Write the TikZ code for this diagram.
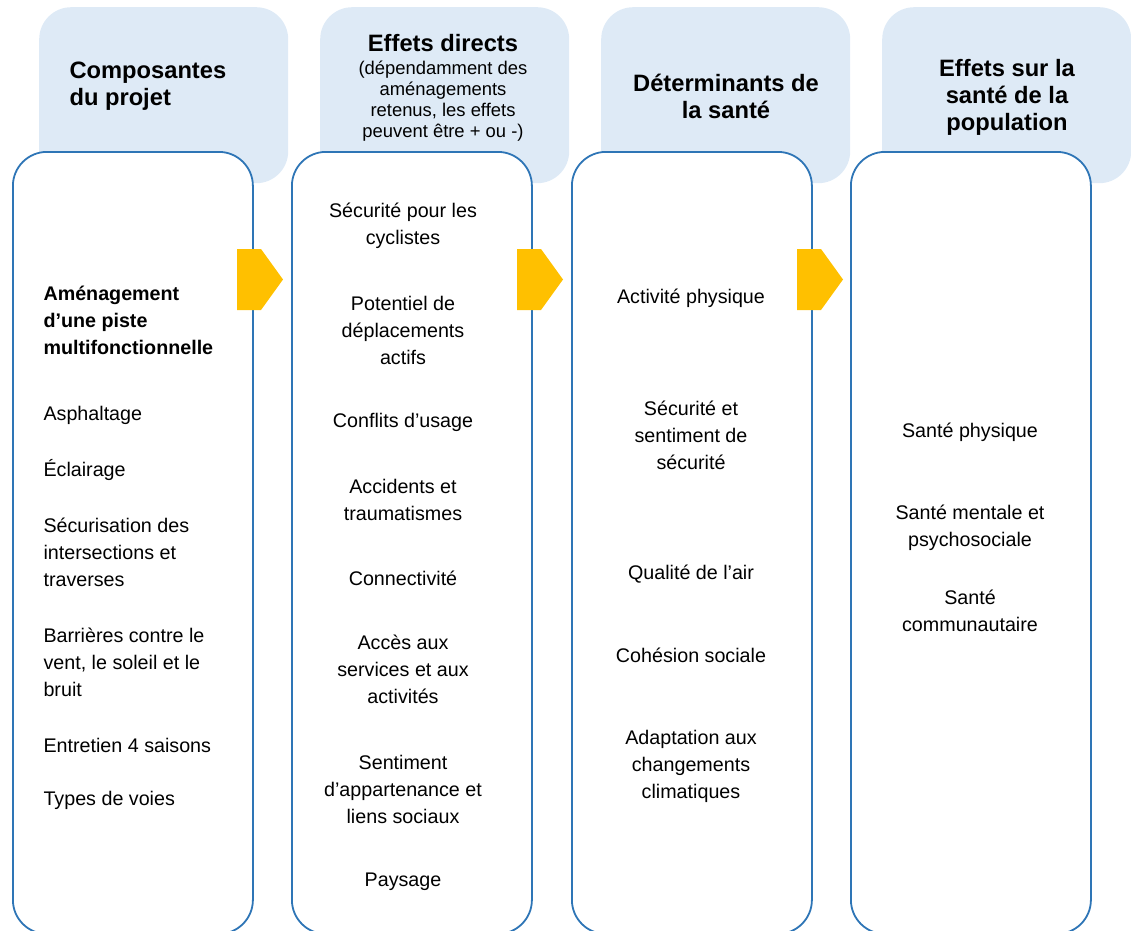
\documentclass[tikz,border=0pt]{standalone}
\usepackage{fontspec}
\setmainfont{Liberation Sans}
\usetikzlibrary{positioning}
\definecolor{headblue}{HTML}{DEEAF6}
\definecolor{lineblue}{HTML}{2E75B6}
\definecolor{arrowyellow}{HTML}{FFC000}

\begin{document}
\begin{tikzpicture} [x = 1pt, y = -1pt,
    head/.style = {fill = headblue, rounded corners = 32pt, inner sep = 0pt,
        minimum width = 249pt, minimum height = 176pt, anchor = north west},
    col/.style = {draw = lineblue, line width = 1.8pt, fill = white, inner sep = 0pt,
        rounded corners = 34pt, minimum width = 240pt, minimum height = 782pt, anchor = north west},
    htext/.style = {font = \fontsize{23.7}{27}\selectfont\bfseries, align = center},
    hsub/.style = {font = \fontsize{18.4}{21}\selectfont, align = center},
    item/.style = {font = \fontsize{19.7}{27}\selectfont, align = center, yshift = -2pt},
    litem/.style = {item, align = left, anchor = west}]

\useasboundingbox (0,0) rectangle (1131,930);
\clip (0,0) rectangle (1131,930);

\node (h1) [head] at (39,7) {};
\node (h2) [head] at (320,7) {};
\node (h3) [head] at (601,7) {};
\node (h4) [head] at (882,7) {};

\node (c1) [col] at (12,151) {};
\node (c2) [col] at (291,151) {};
\node (c3) [col] at (571,151) {};
\node (c4) [col] at (850,151) {};

\foreach \x in {237,517,797}
    \fill [arrowyellow] (\x,249) -- (\x+24,249) -- (\x+46,279.5) -- (\x+24,310) -- (\x,310) -- cycle;

\node (t1) [htext, align = left, anchor = west] at (66,86) {Composantes\\du projet};
\node (t2) [htext] at (443,43) {Effets directs};
\node (t2s) [hsub] at (443,101) {(dépendamment des\\aménagements\\retenus, les effets\\peuvent être + ou -)};
\node (t3) [htext] at (726,96) {Déterminants de\\la santé};
\node (t4) [htext] at (1007,97) {Effets sur la\\santé de la\\population};

\node (a1) [litem, font = \fontsize{19.7}{27}\selectfont\bfseries] at (40,318) {Aménagement\\d’une piste\\multifonctionnelle};
\node (a2) [litem] at (40,413) {Asphaltage};
\node (a3) [litem] at (40,468) {Éclairage};
\node (a4) [litem] at (40,550) {Sécurisation des\\intersections et\\traverses};
\node (a5) [litem] at (40,660) {Barrières contre le\\vent, le soleil et le\\bruit};
\node (a6) [litem] at (40,743) {Entretien 4 saisons};
\node (a7) [litem] at (40,798) {Types de voies};

\node (b1) [item] at (403,223.5) {Sécurité pour les\\cyclistes};
\node (b2) [item] at (403,328) {Potentiel de\\déplacements\\actifs};
\node (b3) [item] at (403,420) {Conflits d’usage};
\node (b4) [item] at (403,497.5) {Accidents et\\traumatismes};
\node (b5) [item] at (403,576) {Connectivité};
\node (b6) [item] at (403,667) {Accès aux\\services et aux\\activités};
\node (b7) [item] at (403,787) {Sentiment\\d’appartenance et\\liens sociaux};
\node (b8) [item] at (403,880) {Paysage};

\node (d1) [item] at (691,296) {Activité physique};
\node (d2) [item] at (691,433) {Sécurité et\\sentiment de\\sécurité};
\node (d3) [item] at (691,572) {Qualité de l’air};
\node (d4) [item] at (691,653) {Cohésion sociale};
\node (d5) [item] at (691,764) {Adaptation aux\\changements\\climatiques};

\node (e1) [item] at (970,430) {Santé physique};
\node (e2) [item] at (970,525.5) {Santé mentale et\\psychosociale};
\node (e3) [item] at (970,608.5) {Santé\\communautaire};

\end{tikzpicture}
\end{document}
